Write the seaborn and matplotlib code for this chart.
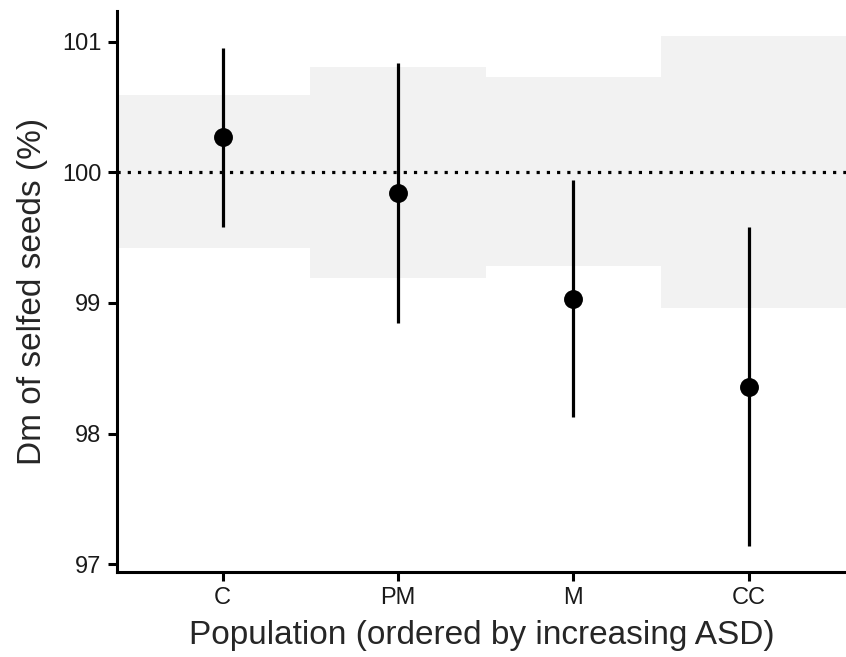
import matplotlib
matplotlib.use("Agg")
import matplotlib.pyplot as plt
import seaborn as sns
import pandas as pd

# values
populations = ["C", "PM", "M", "CC"]
dm_mean = [100.27, 99.84, 99.03, 98.36]
ci_low = [99.58, 98.85, 98.13, 97.14]
ci_high = [100.95, 100.84, 99.94, 99.58]
# grey reference bands per population
band_low = [99.42, 99.19, 99.28, 98.96]
band_high = [100.59, 100.81, 100.73, 101.04]

df = pd.DataFrame({"Population": populations, "Dm": dm_mean,
                   "lo": ci_low, "hi": ci_high,
                   "band_lo": band_low, "band_hi": band_high})

sns.set_theme(style="ticks")
plt.rcParams['font.family'] = ['Liberation Sans', 'DejaVu Sans']

fig = plt.figure(figsize=(8.46, 6.57), dpi=100, facecolor='w')
ax = fig.add_axes([117 / 846, 85.3 / 657, 1 - 117 / 846, 560.7 / 657])

xpos = list(range(len(populations)))
# bands: first and last run to the panel edges
band_left = [x - 0.5 for x in xpos]
band_right = [x + 0.5 for x in xpos]
band_left[0] = -2
band_right[-1] = 5
for l, r, lo, hi in zip(band_left, band_right, df.band_lo, df.band_hi):
    ax.fill_between([l, r], lo, hi, color='#f2f2f2', lw=0, zorder=0)

ax.axhline(100, color='black', lw=2.3, linestyle=(0, (1, 2.2)), zorder=1)
ax.vlines(xpos, df.lo, df.hi, color='black', lw=2.3, zorder=2)
sns.scatterplot(data=df, x="Population", y="Dm", ax=ax, color='black',
                s=185, edgecolor='black', linewidth=0, zorder=3, legend=False)

ax.set_xlim(-0.603, 3.556)
ax.set_ylim(96.943, 101.235)
ax.set_yticks([97, 98, 99, 100, 101])
ax.set_xticks(xpos)
ax.set_xticklabels(populations)

sns.despine(ax=ax)
for s in ['left', 'bottom']:
    ax.spines[s].set_linewidth(2.2)
    ax.spines[s].set_color('black')
ax.tick_params(axis='both', length=6.2, width=2.2, color='black',
               labelsize=17, labelcolor='#1a1a1a', pad=5)
ax.set_xlabel('Population (ordered by increasing ASD)', fontsize=24, labelpad=8)
ax.set_ylabel('Dm of selfed seeds (%)', fontsize=24, labelpad=10)
ax.set_facecolor('white')

fig.savefig('out.png', dpi=100, facecolor='w')
plt.close()
